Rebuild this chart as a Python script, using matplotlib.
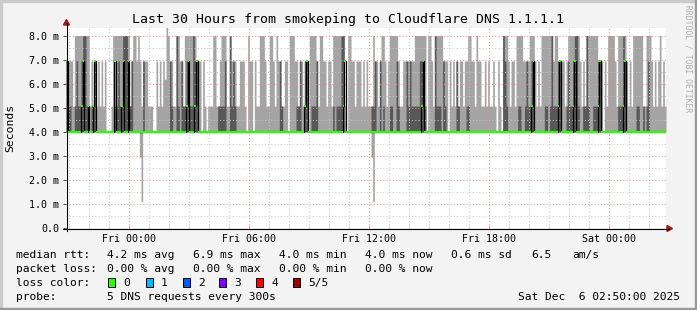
import numpy as np
import matplotlib.pyplot as plt
from matplotlib.patches import Rectangle, Polygon
from matplotlib.lines import Line2D

plt.rcParams['font.family'] = 'DejaVu Sans Mono'

W, H = 697, 310

# rtt levels (ms) used by the codes below
level = {'4': 4.0, '5': 5.08, '6': 6.2, '7': 6.96, '8': 8.02, '9': 8.4}

# one char per 5 min step, 360 steps (30 h), 60 steps per chunk
ping_max = ["777758888888885757575757444588888888785788787577755544757576",
            "987755887758888888777475455588557888558777557775487747558887",
            "558875877557748887757757548888758877577588888875488775777575",
            "755587757887578888875577777778888888488758888877747575757757",
            "788775877557575575475488875775888877778887575888888878877775",
            "788888887575888888877747588887588888757588888855888757578575"]
ping_p4 = ["755445755788554557444444444445575588855744444474444444444444",
           "447544854755775587744444444444455557448575444444444444444444",
           "444444447544444444557447744555744444444454555884444444444444",
           "444557447454445544754444757555557775444448555475444444754444",
           "554444444444444444444487544444455445755774444445545855577444",
           "575578854455854455577444444444455587444444554454574444444444"]
ping_median = ["744444444574454457444444444447444574474444444444444444444444",
               "444444444444574445744444444444444444444444444444444444444444",
               "444444444444444444444445744444444444444444444457444444444444",
               "444444444444444444444444444444444574444444444444444444444444",
               "444444444444444444444444444444444444444574444444444444457444",
               "444457444444444444457444444444444457444444444444444444444444"]
ping_min = 4.0
dip_step = [44, 45, 183, 184]
dip_min = [2.95, 1.1, 2.95, 1.1]

y_ticks = [0, 1, 2, 3, 4, 5, 6, 7, 8]
y_labels = ['0.0', '1.0 m', '2.0 m', '3.0 m', '4.0 m', '5.0 m', '6.0 m', '7.0 m', '8.0 m']
x_ticks = [0, 6, 12, 18, 24]
x_labels = ['Fri 00:00', 'Fri 06:00', 'Fri 12:00', 'Fri 18:00', 'Sat 00:00']

loss_colors = ['#26ff00', '#00b8ff', '#0059ff', '#7e00ff', '#ff0000', '#a10000']
loss_names = ['0', '1', '2', '3', '4', '5/5']

p5 = np.array([level[c] for c in ''.join(ping_max)])
p4 = np.array([level[c] for c in ''.join(ping_p4)])
med = np.array([level[c] for c in ''.join(ping_median)])
p1 = np.full(len(p5), ping_min)
p1[dip_step] = dip_min
p5 = np.maximum(p5, ping_min)

end_h = 26 + 50 / 60
start_h = end_h - 30
xe = start_h + np.arange(len(p5) + 1) * 5 / 60


def ext(a):
    return np.append(a, a[-1])


def P(x, y):
    return (x / W, 1 - y / H)


fig = plt.figure(figsize=(W / 100, H / 100), dpi=100, facecolor='#f3f3f3')
ax = fig.add_axes([66 / W, 1 - 228 / H, 600 / W, 200 / H])
ax.set_facecolor('white')

ax.fill_between(xe, ext(p1), ext(p5), step='post', color='#a4a4a4', lw=0, zorder=1)
ax.fill_between(xe, ping_min, ext(p4), step='post', color='#585858', lw=0, zorder=1.1)
ax.step(xe, ext(med), where='post', color='black', lw=0.9, zorder=3)
ax.hlines(med, xe[:-1], xe[1:], colors=loss_colors[0], lw=1.5, zorder=3.1)

ax.set_xlim(start_h, end_h)
ax.set_ylim(0, 200 / 24)
ax.set_xticks(x_ticks)
ax.set_xticklabels(x_labels)
ax.set_xticks(np.arange(-3, 27), minor=True)
ax.set_yticks(y_ticks)
ax.set_yticklabels(y_labels)
ax.set_yticks(np.arange(0.5, 8.3, 1.0), minor=True)
ax.grid(which='major', color='#e58c8c', linestyle=(0, (1, 2.2)), lw=0.72, zorder=2.5)
ax.grid(which='minor', color='#c4c4c4', linestyle=(0, (1, 2.2)), lw=0.72, zorder=2.5)
ax.set_axisbelow(False)
for s in ax.spines.values():
    s.set_visible(False)
ax.tick_params(axis='x', which='major', direction='inout', length=3, width=0.7,
               color='#e08080', labelsize=7.2, pad=3)
ax.tick_params(axis='x', which='minor', direction='inout', length=3, width=0.7, color='#c8c8c8')
ax.tick_params(axis='y', which='major', direction='out', length=2.5, width=0.7,
               color='#444444', labelsize=7.2, pad=2.5)
ax.tick_params(axis='y', which='minor', length=0)

# axes with arrows
fig.add_artist(Line2D([63 / W, 669 / W], [1 - 228.5 / H] * 2, color='black', lw=0.8))
fig.add_artist(Line2D([66.5 / W] * 2, [1 - 231 / H, 1 - 23 / H], color='black', lw=0.8))
fig.add_artist(Polygon([P(667, 225.5), P(672.5, 228.5), P(667, 231.5)], closed=True,
                       color='#a01818', transform=fig.transFigure))
fig.add_artist(Polygon([P(63.5, 25), P(66.5, 19.5), P(69.5, 25)], closed=True,
                       color='#a01818', transform=fig.transFigure))

fig.text(348.5 / W, 1 - 19 / H, 'Last 30 Hours from smokeping to Cloudflare DNS 1.1.1.1',
         ha='center', va='center', fontsize=9.5)
fig.text(10 / W, 1 - 128 / H, 'Seconds', rotation=90, ha='center', va='center', fontsize=8.2)
fig.text(688 / W, 1 - 5 / H, 'RRDTOOL / TOBI OETIKER', rotation=270, ha='center', va='top',
         fontsize=5.8, color='#b0b0b0')

fs = 8.1
rows = [
    (258, [(16, 'median rtt:'), (107, '4.2 ms avg'), (193, '6.9 ms max'), (279, '4.0 ms min'),
           (365, '4.0 ms now'), (451, '0.6 ms sd'), (531, '6.5'), (572, 'am/s')]),
    (272, [(16, 'packet loss:'), (107, '0.00 % avg'), (193, '0.00 % max'), (279, '0.00 % min'),
           (365, '0.00 % now')]),
    (286, [(16, 'loss color:')]),
    (300, [(16, 'probe:'), (107, '5 DNS requests every 300s')]),
]
for yb, items in rows:
    for xt, t in items:
        fig.text(xt / W, 1 - yb / H, t, ha='left', va='baseline', fontsize=fs)

box_x = [108.3, 145.7, 182.7, 219.3, 256, 293.3]
for bx, c, name in zip(box_x, loss_colors, loss_names):
    fig.add_artist(Rectangle(P(bx, 287), 7 / W, 9 / H, facecolor=c, edgecolor='black',
                             lw=0.7, transform=fig.transFigure))
    fig.text((bx + 15) / W, 1 - 286 / H, name, ha='left', va='baseline', fontsize=fs)

fig.text(680.5 / W, 1 - 300 / H, 'Sat Dec  6 02:50:00 2025', ha='right', va='baseline', fontsize=fs)

# 3d frame
fig.add_artist(Rectangle((0, 1 - 2 / H), 1, 2 / H, color='#cbcbcb', transform=fig.transFigure))
fig.add_artist(Rectangle((0, 0), 2 / W, 1, color='#cbcbcb', transform=fig.transFigure))
fig.add_artist(Rectangle((0, 0), 1, 2 / H, color='#999999', transform=fig.transFigure))
fig.add_artist(Rectangle((1 - 2 / W, 0), 2 / W, 1, color='#999999', transform=fig.transFigure))

fig.savefig('out.png', dpi=100, facecolor=fig.get_facecolor())
